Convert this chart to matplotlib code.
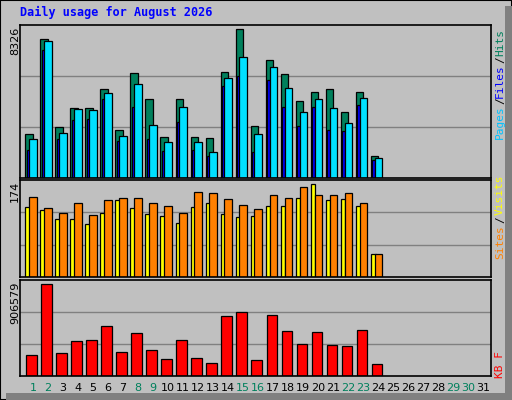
import matplotlib
matplotlib.use("Agg")
import matplotlib.pyplot as plt
import numpy as np
from matplotlib.patches import Rectangle

days = np.arange(1, 32)
n_data = 24
weekend = [1, 2, 8, 9, 15, 16, 22, 23, 29, 30]

hits = [2475, 7764, 2869, 3938, 3938, 4951, 2700, 5851, 4388, 2307, 4388, 2307,
        2250, 5907, 8326, 2926, 6582, 5795, 4276, 4782, 4951, 3713, 4782, 1238]
files = [2194, 7651, 2532, 3882, 3826, 4726, 2363, 5232, 2982, 2025, 3994, 2025,
         1463, 5570, 6751, 2475, 6189, 5007, 3713, 4388, 3938, 3094, 4445, 1125]
pages = [1575, 7145, 2194, 3263, 3319, 4388, 2082, 3994, 2194, 1519, 3151, 1575,
         1238, 5120, 5682, 1463, 5457, 3994, 2926, 3994, 2700, 2644, 4107, 1013]
visits = [132, 125, 108, 108, 100, 121, 144, 129, 119, 115, 102, 132,
          138, 119, 112, 114, 134, 134, 149, 174, 144, 147, 134, 44]
sites = [151, 130, 121, 138, 117, 144, 149, 149, 138, 134, 121, 160,
         158, 147, 136, 127, 153, 149, 168, 153, 153, 157, 138, 44]
kbytes = [204640, 906579, 224412, 343044, 352930, 491334, 234298, 422132, 254070,
          165096, 352930, 174982, 125552, 590194, 629738, 155210, 600080, 441904,
          313386, 432018, 303500, 293614, 451790, 115666]

BG = "#C0C0C0"
GREEN = "#00805C"
W, H = 512, 400

fig = plt.figure(figsize=(W / 100, H / 100), dpi=100, facecolor=BG)

# outer 3D frame
fig.patches.append(Rectangle((0, 0), 1, 1, transform=fig.transFigure,
                             fill=False, ec="black", lw=1.5))
fig.patches.append(Rectangle((1 - 7 / W, 0), 7 / W, 1 - 6 / H, transform=fig.transFigure,
                             fc="#808080", ec="none"))
fig.patches.append(Rectangle((6 / W, 0), 1, 7 / H, transform=fig.transFigure,
                             fc="#808080", ec="none"))

fig.text(20 / W, 1 - 12 / H, "Daily usage for August 2026", color="#0000FF",
         family="DejaVu Sans Mono", weight="bold", fontsize=8.5, va="center")


def panel(y0, y1, top):
    ax = fig.add_axes([20 / W, 1 - y1 / H, 471 / W, (y1 - y0) / H])
    ax.set_facecolor(BG)
    ax.set_xlim(2 / 15, 31.5)
    ax.set_ylim(0, top)
    ax.set_xticks([])
    ax.set_yticks([])
    for s in ax.spines.values():
        s.set_color("black")
        s.set_linewidth(1.2)
    for f in (1 / 3, 2 / 3):
        ax.axhline(top * f, color="#808080", lw=1, zorder=0)
    return ax


x = days[:n_data]
kw = dict(align="edge", edgecolor="black", linewidth=0.9)

ax1 = panel(25, 178, 8326 * 153 / 149)
ax1.bar(x - 0.51, hits, 0.51, color=GREEN, **kw)
ax1.bar(x - 0.40, pages, 0.2, color="#0000FF", **kw)
ax1.bar(x - 0.25, files, 0.49, color="#00E0FF", **kw)

ax2 = panel(180, 277, 174 * 97 / 92.7)
ax2.bar(x - 0.51, visits, 0.32, color="#FFFF00", **kw)
ax2.bar(x - 0.25, sites, 0.49, color="#FF8000", **kw)

ax3 = panel(280, 376, 906579 * 96 / 91.7)
ax3.bar(x - 0.45, kbytes, 0.69, color="#FF0000", **kw)

# left max labels
for y, lab in [(27, "8326"), (181, "174"), (282, "906579")]:
    fig.text(15 / W, 1 - y / H, lab, rotation=90, ha="center", va="top",
             fontsize=8, color="black")

# right legends
mono = dict(family="DejaVu Sans Mono", fontsize=8, rotation=90,
            ha="center", va="center")
for y, lab, c in [(122, "Pages", "#00C0FF"), (101, "/", "black"),
                  (81, "Files", "#0000FF"), (60, "/", "black"),
                  (42, "Hits", GREEN),
                  (242, "Sites", "#FF8000"), (220, "/", "black"),
                  (195, "Visits", "#FFFF00"),
                  (365, "KB F", "#FF0000")]:
    fig.text(500 / W, 1 - y / H, lab, color=c, **mono)

# day labels
for d in days:
    fig.text((18 + 15 * d) / W, 1 - 388 / H, str(d), ha="center", va="center",
             fontsize=8, color=GREEN if d in weekend else "black")

fig.savefig("out.png", dpi=100, facecolor=BG)
